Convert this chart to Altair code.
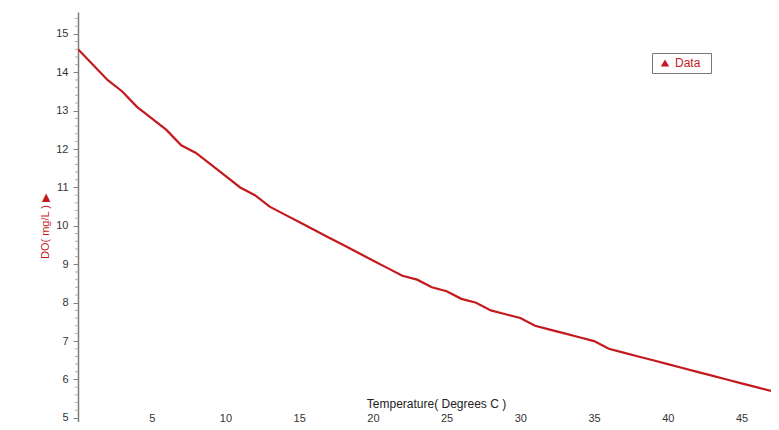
import altair as alt
import pandas as pd

temperature = list(range(0, 48))
do_mg_l = [14.6, 14.2, 13.8, 13.5, 13.1, 12.8, 12.5, 12.1, 11.9, 11.6,
           11.3, 11.0, 10.8, 10.5, 10.3, 10.1, 9.9, 9.7, 9.5, 9.3,
           9.1, 8.9, 8.7, 8.6, 8.4, 8.3, 8.1, 8.0, 7.8, 7.7,
           7.6, 7.4, 7.3, 7.2, 7.1, 7.0, 6.8, 6.7, 6.6, 6.5,
           6.4, 6.3, 6.2, 6.1, 6.0, 5.9, 5.8, 5.7]
series = ["Data"] * len(temperature)

x_ticks = [5, 10, 15, 20, 25, 30, 35, 40, 45]
y_ticks = [5, 6, 7, 8, 9, 10, 11, 12, 13, 14, 15]
minor_ticks = [round(v / 5, 1) for v in range(25, 78) if v % 5 != 0]

RED = "#c41a1e"
FONT = "Liberation Sans"

df = pd.DataFrame({"T": temperature, "DO": do_mg_l, "s": series})
minor_df = pd.DataFrame({"m": minor_ticks})

xscale = alt.Scale(domain=[0, 47], nice=False, zero=False)
yscale = alt.Scale(domain=[4.893, 15.57], nice=False, zero=False)

line = alt.Chart(df).mark_line(strokeWidth=2.2, clip=True).encode(
    x=alt.X("T:Q", scale=xscale,
            axis=alt.Axis(values=x_ticks, title="Temperature( Degrees C )",
                          domain=False, ticks=False, grid=False, offset=-8,
                          labelPadding=7, labelBaseline="alphabetic",
                          labelFontSize=11, labelColor="#333333",
                          labelFont=FONT, titleFont=FONT, titleFontSize=12,
                          titleFontWeight="normal", titleColor="#222222",
                          titleX=358, titleY=-11, titleAlign="center",
                          titleBaseline="middle")),
    y=alt.Y("DO:Q", scale=yscale,
            axis=alt.Axis(values=y_ticks, title="DO( mg/L )    \u25b6", grid=False,
                          domainColor="#808080", domainWidth=1.5,
                          tickColor="#808080", tickSize=5, tickWidth=1,
                          labelPadding=5, labelFontSize=11, labelColor="#333333",
                          labelFont=FONT, titleFont=FONT, titleFontSize=11,
                          titleFontWeight="normal", titleColor=RED,
                          titleX=-33, titleY=214, titleAngle=270,
                          titleAlign="center", titleBaseline="middle")),
    color=alt.Color("s:N", scale=alt.Scale(range=[RED]),
                    legend=alt.Legend(title=None, orient="none", legendX=574, legendY=41,
                                      symbolType="triangle-up", symbolFillColor=RED,
                                      symbolStrokeColor=RED, symbolStrokeWidth=0,
                                      symbolSize=70, symbolOffset=3,
                                      labelExpr="datum.label + '\u2002\u200b'",
                                      labelColor=RED, labelFont=FONT,
                                      labelFontSize=12, padding=4,
                                      strokeColor="#777777", fillColor="white")),
)

minor = alt.Chart(minor_df).mark_rule(color="#b0b0b0", strokeWidth=1).encode(
    y=alt.Y("m:Q", scale=yscale),
    x=alt.value(-3),
    x2=alt.value(0),
)

chart = alt.layer(minor, line).properties(
    width=693, height=410,
    autosize=alt.AutoSizeParams(type="none"),
    padding={"left": 70, "top": 4, "right": 0, "bottom": 0},
).configure(background="white").configure_view(stroke=None)

chart.save("out.html", embed_options={"renderer": "svg", "actions": False})
